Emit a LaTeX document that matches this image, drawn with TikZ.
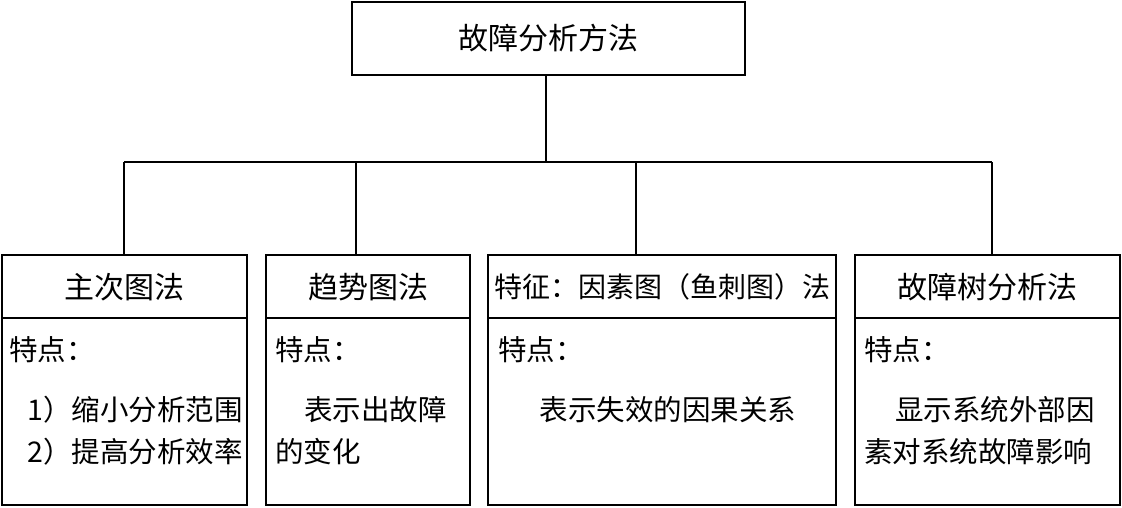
\documentclass[tikz,border=0pt]{standalone}
\usepackage{fontspec}
\newfontfamily\cjk{Noto Sans CJK SC}
\begin{document}
\begin{tikzpicture}[x=1pt,y=-1pt,
  box/.style={draw,line width=1.6pt},
  ttl/.style={font=\cjk\fontsize{30}{34}\selectfont},
  txt/.style={font=\cjk\fontsize{28.5}{32}\selectfont,inner sep=0pt},
  ln/.style={line width=1.4pt}]
\useasboundingbox (0,0) rectangle (1122,507);
\node[box,minimum width=393pt,minimum height=73pt,ttl] (top) at (548.5,38.5) {故障分析方法};
\coordinate (j) at (546,162);
\draw[ln] (top.south -| j) -- (j);
\coordinate (hl) at (124,162);
\coordinate (hr) at (992,162);
\draw[ln] (hl) -- (hr);
% boxes
\draw[box] (2,255) rectangle (247,505); \draw[box] (2,318) -- (247,318);
\draw[box] (266,255) rectangle (470,505); \draw[box] (266,318) -- (470,318);
\draw[box] (488,255) rectangle (836,505); \draw[box] (488,318) -- (836,318);
\draw[box] (855,255) rectangle (1120,505); \draw[box] (855,318) -- (1120,318);
\coordinate (b1) at (124,255); \coordinate (b2) at (356,255);
\coordinate (b3) at (636,255); \coordinate (b4) at (992,255);
\coordinate (t1) at (124,162); \coordinate (t2) at (356,162);
\coordinate (t3) at (636,162); \coordinate (t4) at (992,162);
\draw[ln] (t1)--(b1); \draw[ln] (t2)--(b2); \draw[ln] (t3)--(b3); \draw[ln] (t4)--(b4);
% titles
\node[ttl] (h1) at (124.5,287) {主次图法};
\node[ttl] (h2) at (368,287) {趋势图法};
\node[ttl,font=\cjk\fontsize{28}{32}\selectfont] (h3) at (662,287) {特征：因素图（鱼刺图）法};
\node[ttl] (h4) at (987,287) {故障树分析法};
% body
\node[txt,anchor=west] (p1) at (9,350) {特点：};
\node[txt,anchor=east] (a1) at (243,410) {1）缩小分析范围};
\node[txt,anchor=east] (a2) at (243,452) {2）提高分析效率};
\node[txt,anchor=west] (p2) at (275,350) {特点：};
\node[txt,anchor=west] (c1) at (304,410) {表示出故障};
\node[txt,anchor=west] (c2) at (275,452) {的变化};
\node[txt,anchor=west] (p3) at (498,350) {特点：};
\node[txt] (d1) at (668,410) {表示失效的因果关系};
\node[txt,anchor=west] (p4) at (864,350) {特点：};
\node[txt,anchor=west] (e1) at (895,410) {显示系统外部因};
\node[txt,anchor=west] (e2) at (864,452) {素对系统故障影响};
\end{tikzpicture}
\end{document}
